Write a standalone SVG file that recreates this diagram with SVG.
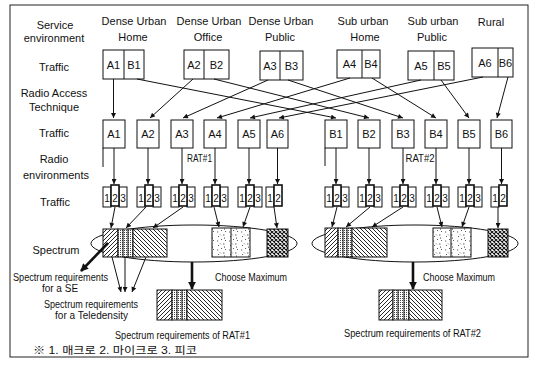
<svg xmlns="http://www.w3.org/2000/svg" width="535" height="369" viewBox="0 0 535 369">
<defs>
<style>
.t{font-family:"Liberation Sans",Arial,sans-serif;font-size:11px;fill:#111;text-anchor:middle}
.s{font-size:10px}
.bx{fill:#fff;stroke:#111;stroke-width:1}
.bm{fill:#fff;stroke:#111;stroke-width:1.6}
.ln{stroke:#111;stroke-width:1;fill:none}
.c{stroke:#111;stroke-width:1;fill:none;marker-end:url(#ah)}
.ck{stroke:#111;stroke-width:2.6;fill:none;marker-end:url(#ahk)}
.el{fill:#fff;stroke:#111;stroke-width:1}
</style>
<marker id="ah" viewBox="0 0 10 10" refX="10" refY="5" markerWidth="6" markerHeight="5" orient="auto"><path d="M0,0 L10,5 L0,10 z" fill="#111"/></marker>
<marker id="ahk" viewBox="0 0 10 10" refX="9" refY="5" markerWidth="3.2" markerHeight="3" orient="auto"><path d="M0,0 L10,5 L0,10 z" fill="#111"/></marker>
<pattern id="fw" patternUnits="userSpaceOnUse" width="4" height="4"><rect width="4" height="4" fill="#fff"/><path d="M-1,1 L1,-1 M0,4 L4,0 M3,5 L5,3" stroke="#111" stroke-width="0.9"/></pattern>
<pattern id="bk" patternUnits="userSpaceOnUse" width="4" height="4"><rect width="4" height="4" fill="#fff"/><path d="M-1,3 L1,5 M0,0 L4,4 M3,-1 L5,1" stroke="#111" stroke-width="0.9"/></pattern>
<pattern id="st" patternUnits="userSpaceOnUse" width="2" height="2"><rect width="2" height="2" fill="#fff"/><rect width="1" height="1" fill="#444"/></pattern>
<pattern id="sp" patternUnits="userSpaceOnUse" width="12" height="9"><rect width="12" height="9" fill="#fff"/><path d="M2,2 l1,1 M7,1 l1.5,0 M5,5 l1,1 M10,6 l-1,1 M1,7 l1.2,0 M8.5,3.5 l0,1.2 M4,0.5 l0.8,0.8" stroke="#333" stroke-width="0.8"/></pattern>
<pattern id="cx" patternUnits="userSpaceOnUse" width="4" height="4"><rect width="4" height="4" fill="#fff"/><path d="M0,0 L4,4 M4,0 L0,4" stroke="#111" stroke-width="1.1"/></pattern>
</defs>
<rect x="0" y="0" width="535" height="369" fill="#fff"/>
<rect x="10" y="5" width="518" height="352" fill="none" stroke="#222" stroke-width="1"/>

<g id="row-labels">
<text class="t" x="55" y="29">Service</text>
<text class="t" x="54" y="42">environment</text>
<text class="t" x="54" y="71">Traffic</text>
<text class="t" x="54" y="97">Radio Access</text>
<text class="t" x="54" y="111">Technique</text>
<text class="t" x="54" y="137">Traffic</text>
<text class="t" x="54" y="163">Radio</text>
<text class="t" x="56" y="179">environments</text>
<text class="t" x="55" y="206">Traffic</text>
<text class="t" x="56" y="254">Spectrum</text>
</g>

<g id="col-headers">
<text class="t" x="134" y="25">Dense Urban</text><text class="t" x="133" y="41">Home</text>
<text class="t" x="209" y="25">Dense Urban</text><text class="t" x="208" y="41">Office</text>
<text class="t" x="281" y="25">Dense Urban</text><text class="t" x="280" y="41">Public</text>
<text class="t" x="363" y="25">Sub urban</text><text class="t" x="365" y="41">Home</text>
<text class="t" x="433" y="25">Sub urban</text><text class="t" x="432" y="41">Public</text>
<text class="t" x="491" y="26">Rural</text>
</g>

<g id="se-home"><rect class="bx" x="103" y="50" width="41" height="29"/><line class="ln" x1="124" y1="50" x2="124" y2="79"/><text class="t" x="113.5" y="69">A1</text><text class="t" x="134" y="69">B1</text></g>
<g id="se-office"><rect class="bx" x="184" y="50" width="45" height="29"/><line class="ln" x1="204" y1="50" x2="204" y2="79"/><text class="t" x="194" y="69">A2</text><text class="t" x="216.5" y="69">B2</text></g>
<g id="se-public"><rect class="bx" x="260" y="51" width="43" height="29"/><line class="ln" x1="280" y1="51" x2="280" y2="80"/><text class="t" x="270" y="70">A3</text><text class="t" x="291.5" y="70">B3</text></g>
<g id="se-sub-home"><rect class="bx" x="337" y="50" width="43" height="28"/><line class="ln" x1="362" y1="50" x2="362" y2="78"/><text class="t" x="349.5" y="68">A4</text><text class="t" x="371" y="68">B4</text></g>
<g id="se-sub-public"><rect class="bx" x="408" y="51" width="46" height="29"/><line class="ln" x1="434" y1="51" x2="434" y2="80"/><text class="t" x="421" y="70">A5</text><text class="t" x="444" y="70">B5</text></g>
<g id="se-rural"><rect class="bx" x="472" y="48" width="41" height="29"/><line class="ln" x1="498" y1="48" x2="498" y2="77"/><text class="t" x="485" y="67">A6</text><text class="t" x="505.5" y="67">B6</text></g>

<g id="rat1-traffic">
<rect class="bx" x="103" y="120" width="22" height="28"/><text class="t" x="114" y="138">A1</text>
<rect class="bx" x="137" y="120" width="22" height="28"/><text class="t" x="148" y="138">A2</text>
<rect class="bx" x="171" y="120" width="22" height="28"/><text class="t" x="182" y="138">A3</text>
<rect class="bx" x="204" y="120" width="22" height="28"/><text class="t" x="215" y="138">A4</text>
<rect class="bx" x="238" y="120" width="22" height="28"/><text class="t" x="249" y="138">A5</text>
<rect class="bx" x="267" y="120" width="21" height="28"/><text class="t" x="277.5" y="138">A6</text>
<line class="ln" x1="103" y1="148" x2="103" y2="167" stroke="#666"/>
<text class="t" x="199.5" y="162" font-size="9.5" textLength="25" lengthAdjust="spacingAndGlyphs">RAT#1</text>
</g>
<g id="rat2-traffic">
<rect class="bx" x="325" y="120" width="22" height="28"/><text class="t" x="336" y="138">B1</text>
<rect class="bx" x="358" y="120" width="22" height="28"/><text class="t" x="369" y="138">B2</text>
<rect class="bx" x="392" y="120" width="22" height="28"/><text class="t" x="403" y="138">B3</text>
<rect class="bx" x="425" y="120" width="22" height="28"/><text class="t" x="436" y="138">B4</text>
<rect class="bx" x="458" y="120" width="22" height="28"/><text class="t" x="469" y="138">B5</text>
<rect class="bx" x="491" y="120" width="21" height="28"/><text class="t" x="501.5" y="138">B6</text>
<line class="ln" x1="325" y1="148" x2="325" y2="166" stroke="#666"/>
<text class="t" x="420" y="162" font-size="9.5" textLength="29" lengthAdjust="spacingAndGlyphs">RAT#2</text>
</g>

<g id="cells-a">
<g transform="translate(103,0)"><rect class="bx" x="0" y="187" width="8" height="20"/><rect class="bx" x="16" y="187" width="8" height="20"/><rect class="bm" x="8" y="185" width="8" height="21"/><text class="t s" x="4" y="202">1</text><text class="t s" x="12" y="202">2</text><text class="t s" x="20" y="202">3</text></g>
<g transform="translate(137,0)"><rect class="bx" x="0" y="187" width="8" height="20"/><rect class="bx" x="16" y="187" width="8" height="20"/><rect class="bm" x="8" y="185" width="8" height="21"/><text class="t s" x="4" y="202">1</text><text class="t s" x="12" y="202">2</text><text class="t s" x="20" y="202">3</text></g>
<g transform="translate(171,0)"><rect class="bx" x="0" y="187" width="8" height="20"/><rect class="bx" x="16" y="187" width="8" height="20"/><rect class="bm" x="8" y="185" width="8" height="21"/><text class="t s" x="4" y="202">1</text><text class="t s" x="12" y="202">2</text><text class="t s" x="20" y="202">3</text></g>
<g transform="translate(204,0)"><rect class="bx" x="0" y="187" width="8" height="20"/><rect class="bx" x="16" y="187" width="8" height="20"/><rect class="bm" x="8" y="185" width="8" height="21"/><text class="t s" x="4" y="202">1</text><text class="t s" x="12" y="202">2</text><text class="t s" x="20" y="202">3</text></g>
<g transform="translate(238,0)"><rect class="bx" x="0" y="187" width="8" height="20"/><rect class="bx" x="16" y="187" width="8" height="20"/><rect class="bm" x="8" y="185" width="8" height="21"/><text class="t s" x="4" y="202">1</text><text class="t s" x="12" y="202">2</text><text class="t s" x="20" y="202">3</text></g>
<g transform="translate(266,0)"><rect class="bx" x="0" y="187" width="8" height="20"/><rect class="bm" x="8" y="185" width="8" height="21"/><text class="t s" x="4" y="202">1</text><text class="t s" x="12" y="202">2</text></g>
</g>
<g id="cells-b">
<g transform="translate(325,0)"><rect class="bx" x="0" y="187" width="8" height="20"/><rect class="bx" x="16" y="187" width="8" height="20"/><rect class="bm" x="8" y="185" width="8" height="21"/><text class="t s" x="4" y="202">1</text><text class="t s" x="12" y="202">2</text><text class="t s" x="20" y="202">3</text></g>
<g transform="translate(358,0)"><rect class="bx" x="0" y="187" width="8" height="20"/><rect class="bx" x="16" y="187" width="8" height="20"/><rect class="bm" x="8" y="185" width="8" height="21"/><text class="t s" x="4" y="202">1</text><text class="t s" x="12" y="202">2</text><text class="t s" x="20" y="202">3</text></g>
<g transform="translate(392,0)"><rect class="bx" x="0" y="187" width="8" height="20"/><rect class="bx" x="16" y="187" width="8" height="20"/><rect class="bm" x="8" y="185" width="8" height="21"/><text class="t s" x="4" y="202">1</text><text class="t s" x="12" y="202">2</text><text class="t s" x="20" y="202">3</text></g>
<g transform="translate(425,0)"><rect class="bx" x="0" y="187" width="8" height="20"/><rect class="bx" x="16" y="187" width="8" height="20"/><rect class="bm" x="8" y="185" width="8" height="21"/><text class="t s" x="4" y="202">1</text><text class="t s" x="12" y="202">2</text><text class="t s" x="20" y="202">3</text></g>
<g transform="translate(458,0)"><rect class="bx" x="0" y="187" width="8" height="20"/><rect class="bx" x="16" y="187" width="8" height="20"/><rect class="bm" x="8" y="185" width="8" height="21"/><text class="t s" x="4" y="202">1</text><text class="t s" x="12" y="202">2</text><text class="t s" x="20" y="202">3</text></g>
<g transform="translate(491,0)"><rect class="bx" x="0" y="187" width="8" height="20"/><rect class="bm" x="8" y="185" width="8" height="21"/><text class="t s" x="4" y="202">1</text><text class="t s" x="12" y="202">2</text></g>
</g>

<g id="spectrum-rat1">
<ellipse class="el" cx="194" cy="243.5" rx="103" ry="18.5"/>
<rect x="103" y="229" width="15" height="28" fill="url(#fw)" stroke="#111"/>
<rect x="118" y="229" width="15" height="28" fill="url(#st)" stroke="#111"/>
<path class="ln" d="M123,229 V257 M128,229 V257" stroke-width="0.7"/>
<rect x="133" y="229" width="34" height="28" fill="url(#bk)" stroke="#111"/>
<rect x="212" y="228" width="38" height="29" fill="url(#sp)" stroke="#111"/>
<line class="ln" x1="231" y1="228" x2="231" y2="257"/>
<rect x="267" y="229" width="21" height="28" fill="url(#cx)" stroke="#111"/>
</g>
<g id="spectrum-rat2">
<ellipse class="el" cx="415" cy="243.5" rx="103" ry="18.5"/>
<rect x="325" y="228" width="13" height="29" fill="url(#fw)" stroke="#111"/>
<rect x="338" y="228" width="14" height="29" fill="url(#st)" stroke="#111"/>
<path class="ln" d="M343,228 V257 M347,228 V257" stroke-width="0.7"/>
<rect x="352" y="228" width="35" height="29" fill="url(#bk)" stroke="#111"/>
<rect x="433" y="228" width="38" height="29" fill="url(#sp)" stroke="#111"/>
<line class="ln" x1="451" y1="228" x2="451" y2="257"/>
<rect x="488" y="229" width="20" height="28" fill="url(#cx)" stroke="#111"/>
</g>

<g id="result-rat1">
<rect x="157" y="290" width="15" height="30" fill="url(#fw)" stroke="#111"/>
<rect x="172" y="290" width="15" height="30" fill="url(#st)" stroke="#111"/>
<path class="ln" d="M177,290 V320 M182,290 V320" stroke-width="0.7"/>
<rect x="187" y="290" width="35" height="30" fill="url(#bk)" stroke="#111"/>
<text class="t s" x="182.5" y="339" textLength="135" lengthAdjust="spacingAndGlyphs">Spectrum requirements of RAT#1</text>
</g>
<g id="result-rat2">
<rect x="379" y="290" width="14" height="30" fill="url(#fw)" stroke="#111"/>
<rect x="393" y="290" width="16" height="30" fill="url(#st)" stroke="#111"/>
<path class="ln" d="M398,290 V320 M404,290 V320" stroke-width="0.7"/>
<rect x="409" y="290" width="33" height="30" fill="url(#bk)" stroke="#111"/>
<text class="t s" x="412.5" y="337" textLength="137" lengthAdjust="spacingAndGlyphs">Spectrum requirements of RAT#2</text>
</g>

<g id="labels-lower">
<text class="t s" x="60.5" y="281" textLength="95" lengthAdjust="spacingAndGlyphs">Spectrum requirements</text>
<text class="t s" x="60" y="292">for a SE</text>
<text class="t s" x="91" y="308" textLength="94" lengthAdjust="spacingAndGlyphs">Spectrum requirements</text>
<text class="t s" x="91.5" y="319" textLength="73" lengthAdjust="spacingAndGlyphs">for a  Teledensity</text>
<text class="t" x="251" y="281" font-size="10.5" textLength="72" lengthAdjust="spacingAndGlyphs">Choose Maximum</text>
<text class="t" x="459" y="281" font-size="10.5" textLength="72" lengthAdjust="spacingAndGlyphs">Choose Maximum</text>
<text x="33" y="354" font-family="'Liberation Sans','Noto Sans CJK KR',sans-serif" font-size="10" fill="#111" textLength="164" lengthAdjust="spacingAndGlyphs">※ 1. 매크로  2. 마이크로 3. 피코</text>
</g>

<g id="connectors">
<path class="c" d="M113.5,79 L113.5,118"/>
<path class="c" d="M137,79 L336,118"/>
<path class="c" d="M193,79 L150,118"/>
<path class="c" d="M214,79 L369,118"/>
<path class="c" d="M268,80 L183,118"/>
<path class="c" d="M288,80 L403,118"/>
<path class="c" d="M350,78 L217,118"/>
<path class="c" d="M372,78 L436,118"/>
<path class="c" d="M421,80 L250,118"/>
<path class="c" d="M441,80 L469,118"/>
<path class="c" d="M483,77 L279,118"/>
<path class="c" d="M508,77 L497,118"/>

<path class="c" d="M114,148 V184"/>
<path class="c" d="M148,148 V184"/>
<path class="c" d="M182,148 V184"/>
<path class="c" d="M215,148 V184"/>
<path class="c" d="M249,148 V184"/>
<path class="c" d="M277.5,148 V184"/>
<path class="c" d="M336,148 V184"/>
<path class="c" d="M369,148 V184"/>
<path class="c" d="M403,148 V184"/>
<path class="c" d="M436,148 V184"/>
<path class="c" d="M469,148 V184"/>
<path class="c" d="M501.5,148 V184"/>

<path class="c" d="M115,207 L111,228"/>
<path class="c" d="M146,207 L126,228"/>
<path class="c" d="M183,207 L153,228"/>
<path class="c" d="M214,207 L219,227"/>
<path class="c" d="M250,207 L243,227"/>
<path class="c" d="M274,207 L277,228"/>
<path class="c" d="M337,207 L332,227"/>
<path class="c" d="M370,207 L346,227"/>
<path class="c" d="M403,207 L372,227"/>
<path class="c" d="M437,207 L442,227"/>
<path class="c" d="M469,207 L462,227"/>
<path class="c" d="M498,207 L498,228"/>

<path class="ck" d="M192,262 V289"/>
<path class="ck" d="M413,262 V289"/>
<path class="ck" d="M108,243 L81,271"/>
<path class="c" d="M112,257 L121,292"/>
<path class="c" d="M125,257 L125,292"/>
<path class="c" d="M146,257 L132,292"/>
</g>
</svg>
